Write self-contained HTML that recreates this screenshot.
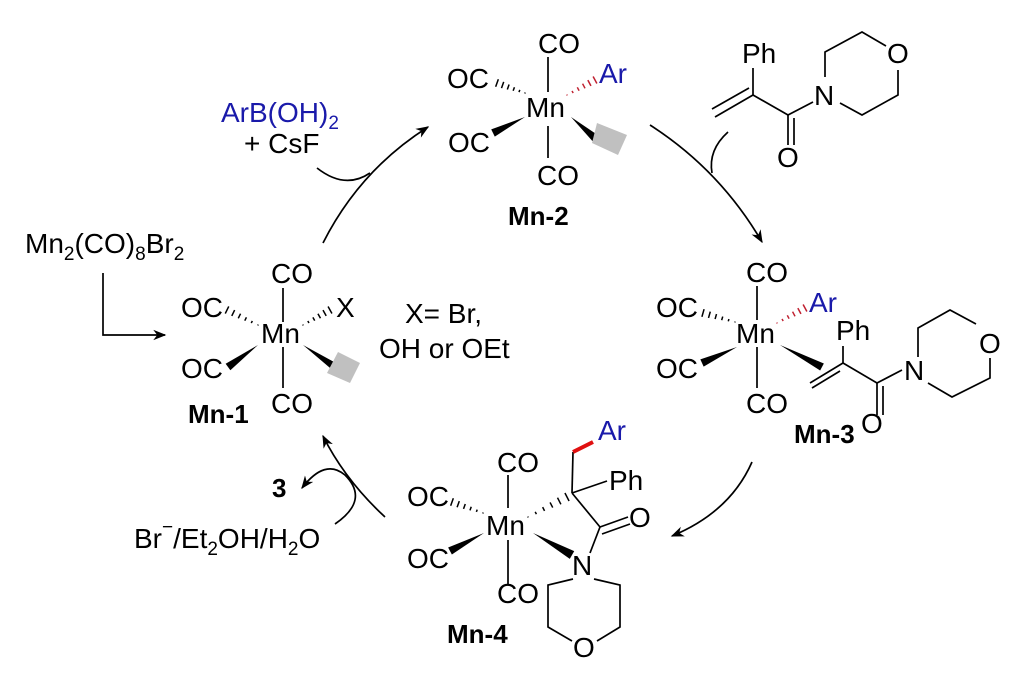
<!DOCTYPE html>
<html><head><meta charset="utf-8"><style>
html,body{margin:0;padding:0;background:#fff;width:1024px;height:688px;overflow:hidden}
svg text{font-family:"Liberation Sans",Arial,sans-serif;font-size:28px;fill:#000}
.b{font-weight:bold;font-size:26px}
.bl{fill:#1a1aaa}
</style></head><body>
<svg id="s" width="1024" height="688" viewBox="0 0 1024 688" xmlns="http://www.w3.org/2000/svg">
<defs><marker id="ah" viewBox="0 0 10 10" refX="9" refY="5" markerWidth="13" markerHeight="13" markerUnits="userSpaceOnUse" orient="auto"><path d="M0,1 L10,5 L0,9 L3,5z" fill="#000"/></marker></defs>
<g stroke="#000" stroke-width="1.7" fill="none">
<line x1="548" y1="57" x2="548" y2="92"/><line x1="548" y1="126" x2="548" y2="158"/>
<line x1="283" y1="288" x2="283" y2="322"/><line x1="283" y1="347" x2="283" y2="388"/>
<line x1="757" y1="286" x2="757" y2="320"/><line x1="757" y1="347" x2="757" y2="388"/>
<line x1="508" y1="475" x2="508" y2="508"/><line x1="508" y1="540" x2="508" y2="584"/>
<line x1="753" y1="68" x2="753" y2="95"/>
<line x1="753" y1="95" x2="715" y2="117"/><line x1="749" y1="88" x2="712" y2="109"/>
<line x1="753" y1="95" x2="788" y2="115"/>
<line x1="788" y1="115" x2="788" y2="145"/><line x1="794" y1="118" x2="794" y2="145"/>
<line x1="788" y1="115" x2="813" y2="102"/>
<polyline points="825,77 825,52 862,32 886,46"/>
<polyline points="898,70 898,95 862,115 840,103"/>
<line x1="843" y1="346" x2="843" y2="363"/>
<line x1="843" y1="363" x2="810" y2="383"/><line x1="840" y1="371" x2="812" y2="388"/>
<line x1="843" y1="363" x2="877" y2="383"/>
<line x1="877" y1="383" x2="877" y2="415"/><line x1="883" y1="386" x2="883" y2="415"/>
<line x1="877" y1="383" x2="902" y2="370"/>
<polyline points="918,357 918,328 950,310 976,324"/>
<polyline points="990,358 990,378 952,397 928,383"/>
<line x1="572" y1="493" x2="573" y2="452"/>
<line x1="572" y1="493" x2="607" y2="481"/>
<line x1="572" y1="493" x2="600" y2="527"/>
<line x1="600" y1="527" x2="628" y2="517"/><line x1="602" y1="534" x2="630" y2="524"/>
<line x1="600" y1="527" x2="590" y2="553"/>
<polyline points="594,579 620,585 620,627 597,641"/>
<polyline points="573,579 548,585 548,627 572,641"/>
<path d="M323,243 Q360,170 428,127" marker-end="url(#ah)"/>
<path d="M317,168 Q345,190 370,173"/>
<path d="M650,125 Q720,170 762,242" marker-end="url(#ah)"/>
<path d="M728,132 Q708,150 712,173"/>
<path d="M752,462 Q730,512 672,536" marker-end="url(#ah)"/>
<path d="M385,517 Q345,480 323,436" marker-end="url(#ah)"/>
<path d="M335,524 Q370,500 345,475 Q325,458 302,488" marker-end="url(#ah)"/>
<polyline points="103,273 103,335 165,335" marker-end="url(#ah)"/>
</g>
<line x1="573" y1="452" x2="593" y2="442" stroke="#e01010" stroke-width="4"/>
<g id="w" fill="#000"></g>
<g fill="#c0c0c0">
<polygon points="597,123 627,135 618,155 592,143"/>
<polygon points="338,352 360,363 350,383 327,373"/>
</g>
<text x="538" y="53">CO</text><text x="526" y="117">Mn</text><text x="447" y="88">OC</text>
<text x="599" y="83" class="bl">Ar</text><text x="448" y="152">OC</text><text x="537" y="185">CO</text>
<text x="508" y="225" class="b">Mn-2</text>
<text x="271" y="283">CO</text><text x="261" y="343">Mn</text><text x="181" y="317">OC</text>
<text x="336" y="317">X</text><text x="181" y="378">OC</text><text x="271" y="413">CO</text>
<text x="188" y="423" class="b">Mn-1</text>
<text x="25" y="253">Mn<tspan font-size="19" dy="7">2</tspan><tspan dy="-7">(CO)</tspan><tspan font-size="19" dy="7">8</tspan><tspan dy="-7">Br</tspan><tspan font-size="19" dy="7">2</tspan></text>
<text x="221" y="122" class="bl">ArB(OH)<tspan font-size="19" dy="7">2</tspan></text>
<text x="244" y="153">+ CsF</text>
<text x="405" y="323">X= Br,</text><text x="379" y="358">OH or OEt</text>
<text x="746" y="282">CO</text><text x="736" y="343">Mn</text><text x="656" y="317">OC</text>
<text x="809" y="312" class="bl">Ar</text><text x="836" y="340">Ph</text>
<text x="656" y="378">OC</text><text x="746" y="413">CO</text>
<text x="861" y="433">O</text><text x="904" y="380">N</text><text x="979" y="353">O</text>
<text x="794" y="443" class="b">Mn-3</text>
<text x="742" y="63">Ph</text><text x="777" y="167">O</text><text x="814" y="105">N</text><text x="887" y="63">O</text>
<text x="497" y="472">CO</text><text x="486" y="535">Mn</text><text x="407" y="506">OC</text>
<text x="407" y="568">OC</text><text x="497" y="603">CO</text>
<text x="598" y="440" class="bl">Ar</text><text x="609" y="490">Ph</text><text x="629" y="527">O</text>
<text x="572" y="575">N</text><text x="573" y="657">O</text>
<text x="447" y="643" class="b">Mn-4</text>
<text x="272" y="497" class="b">3</text>
<text x="134" y="548">Br<tspan font-size="19" dy="-15">−</tspan><tspan dy="15">/Et</tspan><tspan font-size="19" dy="7">2</tspan><tspan dy="-7">OH/H</tspan><tspan font-size="19" dy="7">2</tspan><tspan dy="-7">O</tspan></text>
</svg>
<script>
var NS="http://www.w3.org/2000/svg",g=document.getElementById('w');
function wedge(x1,y1,x2,y2,w){var dx=x2-x1,dy=y2-y1,L=Math.hypot(dx,dy),nx=-dy/L*w/2,ny=dx/L*w/2;
var p=document.createElementNS(NS,'polygon');p.setAttribute('points',x1+','+y1+' '+(x2+nx)+','+(y2+ny)+' '+(x2-nx)+','+(y2-ny));g.appendChild(p);}
function hash(x1,y1,x2,y2,w,c){var dx=x2-x1,dy=y2-y1,L=Math.hypot(dx,dy),n=6;
for(var i=0;i<n;i++){var t=i/(n-1),x=x1+dx*t,y=y1+dy*t,hw=(1+(w-1)*t)/2,nx=-dy/L*hw,ny=dx/L*hw;
var l=document.createElementNS(NS,'line');l.setAttribute('x1',x+nx);l.setAttribute('y1',y+ny);l.setAttribute('x2',x-nx);l.setAttribute('y2',y-ny);
l.setAttribute('stroke',c||'#000');l.setAttribute('stroke-width','1.5');g.appendChild(l);}}
hash(525,93,497,83,8);hash(567,95,595,80,8,'#c02030');wedge(525,117,493,133,8);wedge(571,117,595,138,8);
hash(258,325,227,310,8);hash(303,325,330,310,8);wedge(258,345,228,367,8);wedge(303,345,335,367,8);
hash(735,322,703,313,8);hash(777,323,805,308,8,'#c02030');wedge(737,347,702,363,8);wedge(780,345,822,367,8);
hash(483,513,452,502,8);hash(528,517,567,497,9);wedge(484,533,450,551,8);wedge(533,533,572,555,9);
</script>
</body></html>
